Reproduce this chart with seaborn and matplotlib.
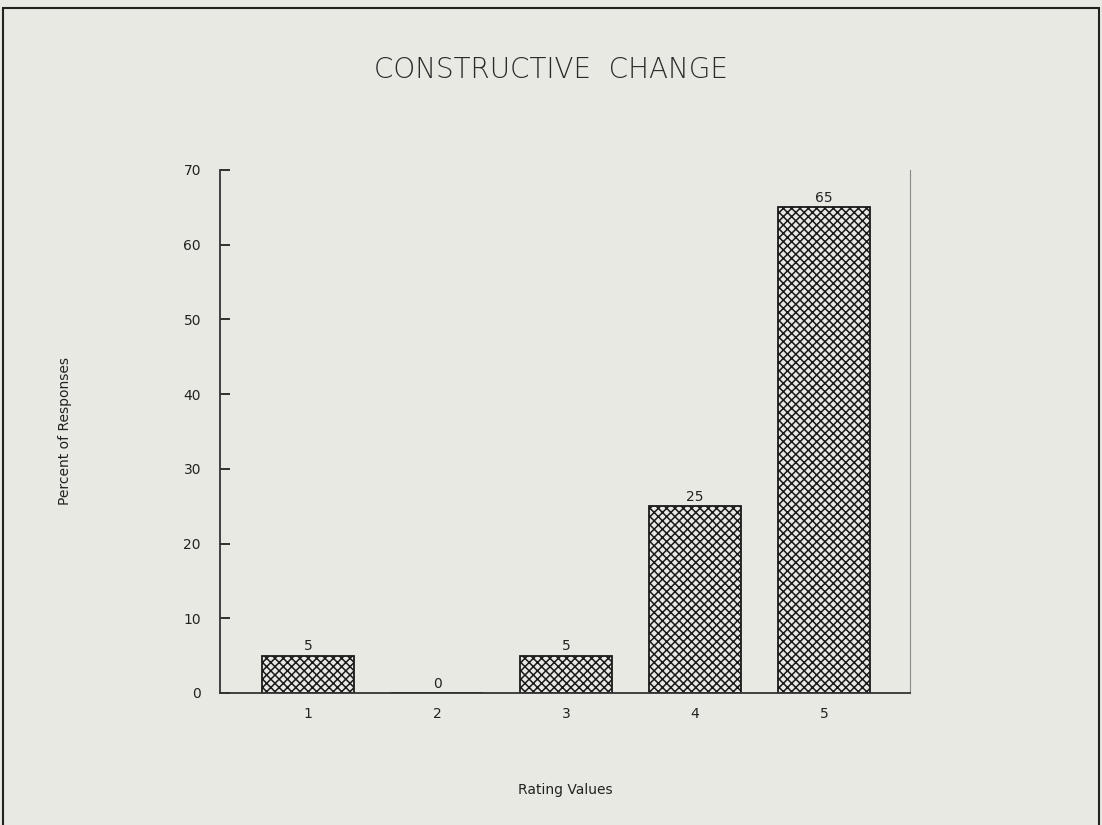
import matplotlib
matplotlib.use("Agg")
import matplotlib.pyplot as plt
import seaborn as sns
import pandas as pd
from matplotlib.patches import Rectangle

ratings = ["1", "2", "3", "4", "5"]
percents = [5, 0, 5, 25, 65]
bg = "#e9e9e3"

df = pd.DataFrame({"rating": ratings, "percent": percents})

sns.set_style("white")
plt.rcParams["hatch.linewidth"] = 1.1
plt.rcParams["hatch.color"] = "#1a1a1a"
plt.rcParams["font.family"] = ["DejaVu Sans"]

fig = plt.figure(figsize=(11.02, 8.25), dpi=100, facecolor=bg)
ax = fig.add_axes([0.2, 0.16, 0.626, 0.634])
ax.set_facecolor(bg)

sns.barplot(data=df, x="rating", y="percent", color=bg, width=0.71,
            edgecolor="#1a1a1a", linewidth=1.3, ax=ax)
for p in ax.patches:
    p.set_hatch("xxxx")

# value labels above bars
for i, v in enumerate(percents):
    ax.text(i, v + 0.3, str(v), ha="center", va="bottom", fontsize=10, color="#222222")

ax.set_xlim(-0.68, 4.67)
ax.set_ylim(0, 70)
ax.set_yticks(range(0, 71, 10))
ax.tick_params(axis="y", direction="in", length=7, width=1.3, left=True, labelsize=10, colors="#222222", pad=14)
ax.tick_params(axis="x", length=0, labelsize=10, colors="#222222", pad=10)
for s in ["left", "bottom"]:
    ax.spines[s].set_color("#333333")
    ax.spines[s].set_linewidth(1.3)
ax.spines["right"].set_color("#888888")
ax.spines["right"].set_linewidth(0.8)
ax.spines["top"].set_visible(False)

ax.set_xlabel("Rating Values", fontsize=10, color="#222222", labelpad=45)
ax.set_ylabel("Percent of Responses", fontsize=10, color="#222222", labelpad=80)
fig.text(0.5, 0.915, "CONSTRUCTIVE  CHANGE", ha="center", va="center",
         fontsize=20, color="#2a2a2a", fontweight="light")

fig.patches.append(Rectangle((0.003, -0.01), 0.994, 1.0, transform=fig.transFigure,
                             fill=False, edgecolor="#222222", linewidth=1.5))

fig.savefig("out.png", dpi=100, facecolor=bg)
